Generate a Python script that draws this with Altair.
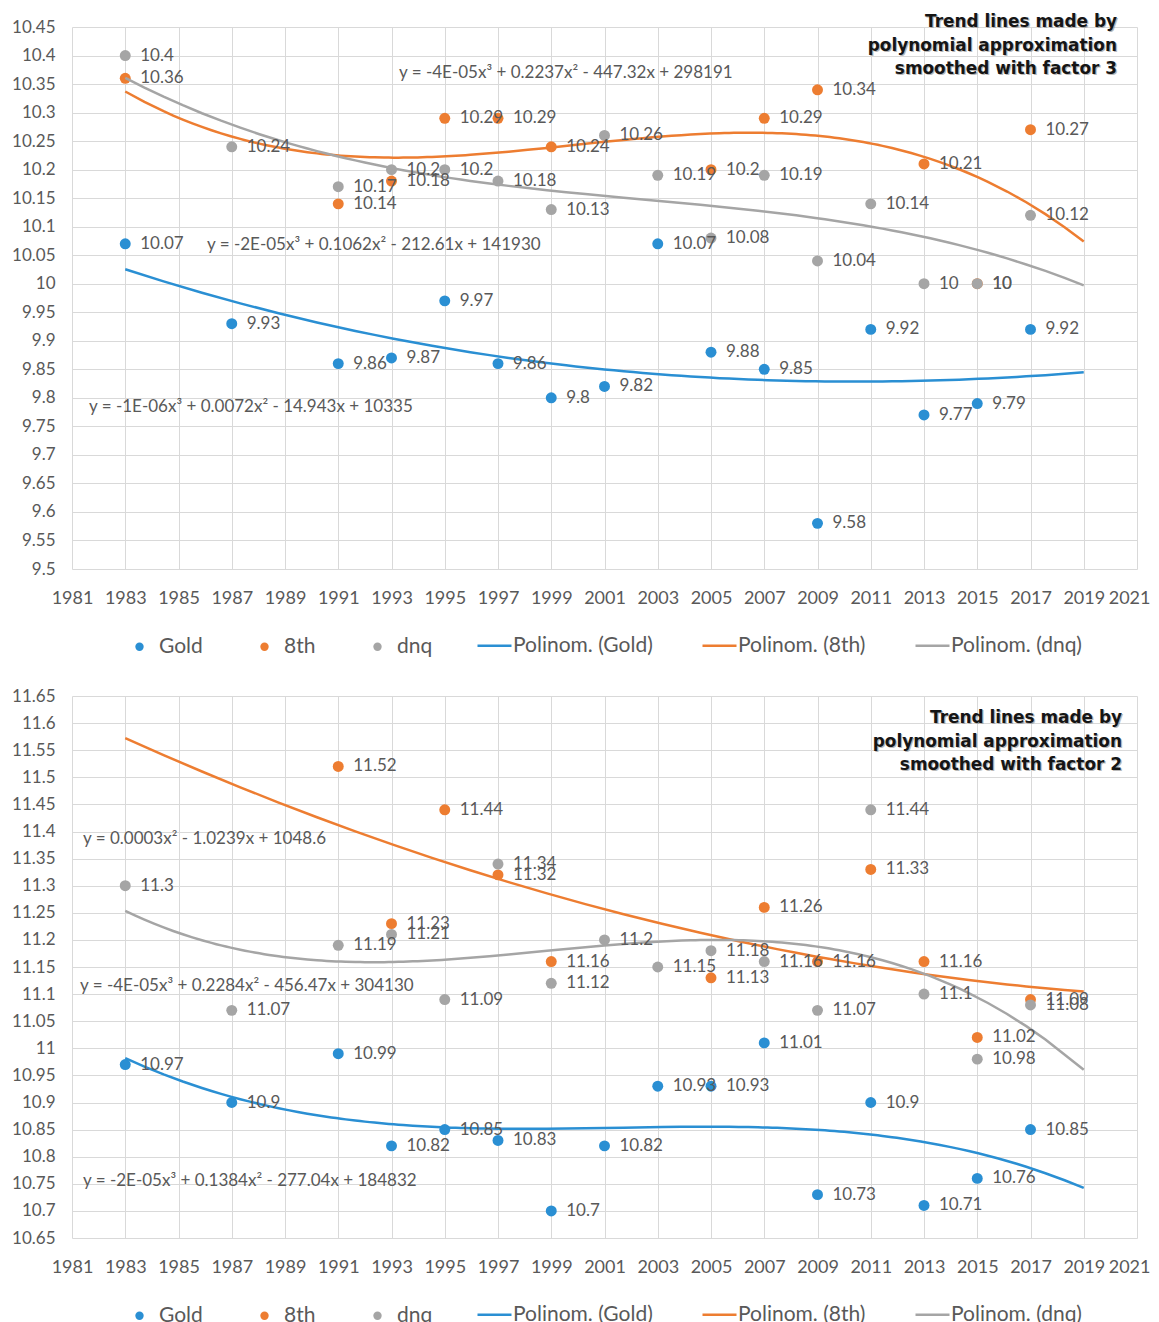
import altair as alt
import pandas as pd
import numpy as np

FONT = "Lato"
TXT = "#595959"
SERIES = ["Gold", "8th", "dnq"]
COLORS = ["#2a8fd3", "#ed7d31", "#a5a5a5"]
TRENDS = ["Polinom. (Gold)", "Polinom. (8th)", "Polinom. (dnq)"]

# ---------------- top panel (factor 3) ----------------
top_gold_years = [1983, 1987, 1991, 1993, 1995, 1997, 1999, 2001, 2003, 2005, 2007, 2009, 2011, 2013, 2015, 2017]
top_gold = [10.07, 9.93, 9.86, 9.87, 9.97, 9.86, 9.8, 9.82, 10.07, 9.88, 9.85, 9.58, 9.92, 9.77, 9.79, 9.92]
top_8th_years = [1983, 1991, 1993, 1995, 1997, 1999, 2005, 2007, 2009, 2013, 2015, 2017]
top_8th = [10.36, 10.14, 10.18, 10.29, 10.29, 10.24, 10.2, 10.29, 10.34, 10.21, 10.0, 10.27]
top_dnq_years = [1983, 1987, 1991, 1993, 1995, 1997, 1999, 2001, 2003, 2005, 2007, 2009, 2011, 2013, 2015, 2017]
top_dnq = [10.4, 10.24, 10.17, 10.2, 10.2, 10.18, 10.13, 10.26, 10.19, 10.08, 10.19, 10.04, 10.14, 10.0, 10.0, 10.12]
top_orders = [3, 3, 3]
top_eqs = [
    "y = -4E-05x³ + 0.2237x² - 447.32x + 298191",
    "y = -2E-05x³ + 0.1062x² - 212.61x + 141930",
    "y = -1E-06x³ + 0.0072x² - 14.943x + 10335",
]
top_title = ["Trend lines made by", "polynomial approximation", "smoothed with factor 3"]

# ---------------- bottom panel (factor 2) ----------------
bot_gold_years = [1983, 1987, 1991, 1993, 1995, 1997, 1999, 2001, 2003, 2005, 2007, 2009, 2011, 2013, 2015, 2017]
bot_gold = [10.97, 10.9, 10.99, 10.82, 10.85, 10.83, 10.7, 10.82, 10.93, 10.93, 11.01, 10.73, 10.9, 10.71, 10.76, 10.85]
bot_8th_years = [1991, 1993, 1995, 1997, 1999, 2005, 2007, 2009, 2011, 2013, 2015, 2017]
bot_8th = [11.52, 11.23, 11.44, 11.32, 11.16, 11.13, 11.26, 11.16, 11.33, 11.16, 11.02, 11.09]
bot_dnq_years = [1983, 1987, 1991, 1993, 1995, 1997, 1999, 2001, 2003, 2005, 2007, 2009, 2011, 2013, 2015, 2017]
bot_dnq = [11.3, 11.07, 11.19, 11.21, 11.09, 11.34, 11.12, 11.2, 11.15, 11.18, 11.16, 11.07, 11.44, 11.1, 10.98, 11.08]
bot_orders = [3, 2, 3]
bot_eqs = [
    "y = 0.0003x² - 1.0239x + 1048.6",
    "y = -4E-05x³ + 0.2284x² - 456.47x + 304130",
    "y = -2E-05x³ + 0.1384x² - 277.04x + 184832",
]
bot_title = ["Trend lines made by", "polynomial approximation", "smoothed with factor 2"]

X_TICKS = list(range(1981, 2022, 2))
W, H = 1065, 542


def panel(gy, gv, ey, ev, dy, dv, ymin, ymax, orders, eqs, eq_pos, title, title_pos, leg_y):
    rows = []
    for s, ys, vs in zip(SERIES, [gy, ey, dy], [gv, ev, dv]):
        for yr, v in zip(ys, vs):
            rows.append({"series": s, "year": yr, "value": v, "label": f"{v:g}"})
    df = pd.DataFrame(rows)
    yticks = [round(v, 2) for v in np.arange(ymin, ymax + 0.001, 0.05)]

    last = X_TICKS[-1]
    x = alt.X("year:Q", scale=alt.Scale(domain=[1981, 2021], nice=False, zero=False),
              axis=alt.Axis(values=X_TICKS, format="d", title=None, labelPadding=20,
                            labelFontSize=18, labelOverlap=False, labelFlush=False,
                            labelAlign={"condition": {"test": f"datum.value == {last}", "value": "right"},
                                        "value": "center"},
                            labelOffset={"condition": {"test": f"datum.value == {last}", "value": 13},
                                         "value": 0}))
    y = alt.Y("value:Q", scale=alt.Scale(domain=[ymin, ymax], nice=False, zero=False),
              axis=alt.Axis(values=yticks, format=".4~g", title=None, labelPadding=17,
                            labelFontSize=17, labelOverlap=False, labelFlush=False))

    base = alt.Chart(df)
    points = base.mark_circle(size=120, opacity=1).encode(
        x=x, y=y,
        color=alt.Color("series:N", scale=alt.Scale(domain=SERIES, range=COLORS),
                        legend=alt.Legend(orient="none", legendX=57, legendY=leg_y,
                                          direction="horizontal", title=None,
                                          symbolType="circle", symbolSize=70,
                                          labelOffset=9, columnPadding=51, padding=0)),
    )

    lines = []
    for s, t, o in zip(SERIES, TRENDS, orders):
        ln = (alt.Chart(df)
              .transform_filter(alt.datum.series == s)
              .transform_regression("year", "value", method="poly", order=o, extent=[1983, 2019])
              .transform_calculate(trend=f"'{t}'")
              .mark_line(strokeWidth=2.5)
              .encode(x=x, y=y,
                      stroke=alt.Stroke("trend:N", scale=alt.Scale(domain=TRENDS, range=COLORS),
                                        legend=alt.Legend(orient="none", legendX=404, legendY=leg_y - 9,
                                                          direction="horizontal", title=None,
                                                          symbolType="stroke", symbolSize=1156,
                                                          symbolStrokeWidth=2.5, labelOffset=0,
                                                          columnPadding=44, padding=0))))
        lines.append(ln)

    labels = base.mark_text(align="left", baseline="middle", dx=15, fontSize=17,
                            color=TXT, font=FONT).encode(x=x, y=y, text="label:N")

    eq_layers = []
    for e, (px, py) in zip(eqs, eq_pos):
        eq_layers.append(alt.Chart(pd.DataFrame({"t": [e]})).mark_text(
            align="left", baseline="middle", fontSize=17, color=TXT, font=FONT
        ).encode(x=alt.value(px), y=alt.value(py + 2), text="t:N"))

    tx, ty = title_pos
    tdf = pd.DataFrame({"t": [0]})
    tfont = "DejaVu Sans"
    shadow = alt.Chart(tdf).mark_text(align="right", baseline="middle", fontSize=16.9,
                                      fontWeight="bold", font=tfont, lineHeight=23.5,
                                      color="#8a8a8a", opacity=0.6, dx=1.2, dy=1.2).encode(
        x=alt.value(tx), y=alt.value(ty), text=alt.value(title))
    ttl = alt.Chart(tdf).mark_text(align="right", baseline="middle", fontSize=16.9,
                                   fontWeight="bold", font=tfont, lineHeight=23.5,
                                   color="#151515").encode(
        x=alt.value(tx), y=alt.value(ty), text=alt.value(title))

    return alt.layer(points, *lines, labels, *eq_layers, shadow, ttl).properties(width=W, height=H)


top = panel(top_gold_years, top_gold, top_8th_years, top_8th, top_dnq_years, top_dnq,
            9.5, 10.45, top_orders, top_eqs,
            [(327, 44), (135, 216), (17, 378)], top_title, (1045, -5), 609)
bot = panel(bot_gold_years, bot_gold, bot_8th_years, bot_8th, bot_dnq_years, bot_dnq,
            10.65, 11.65, bot_orders, bot_eqs,
            [(11, 141), (8, 288), (11, 483)], bot_title, (1050, 22), 609)

chart = (alt.vconcat(top, bot, spacing=30)
         .resolve_scale(color="independent", stroke="independent", x="independent", y="independent")
         .resolve_legend(color="independent", stroke="independent")
         .properties(padding={"left": 3, "top": 5, "right": 0, "bottom": 0})
         .configure_view(stroke=None)
         .configure_axis(grid=True, gridColor="#d9d9d9", gridWidth=1, domain=False, ticks=False,
                         labelColor=TXT, labelFont=FONT)
         .configure_legend(labelFont=FONT, labelFontSize=21, labelColor=TXT, labelLimit=300))

chart.save("out.html", embed_options={"renderer": "svg", "actions": False})
